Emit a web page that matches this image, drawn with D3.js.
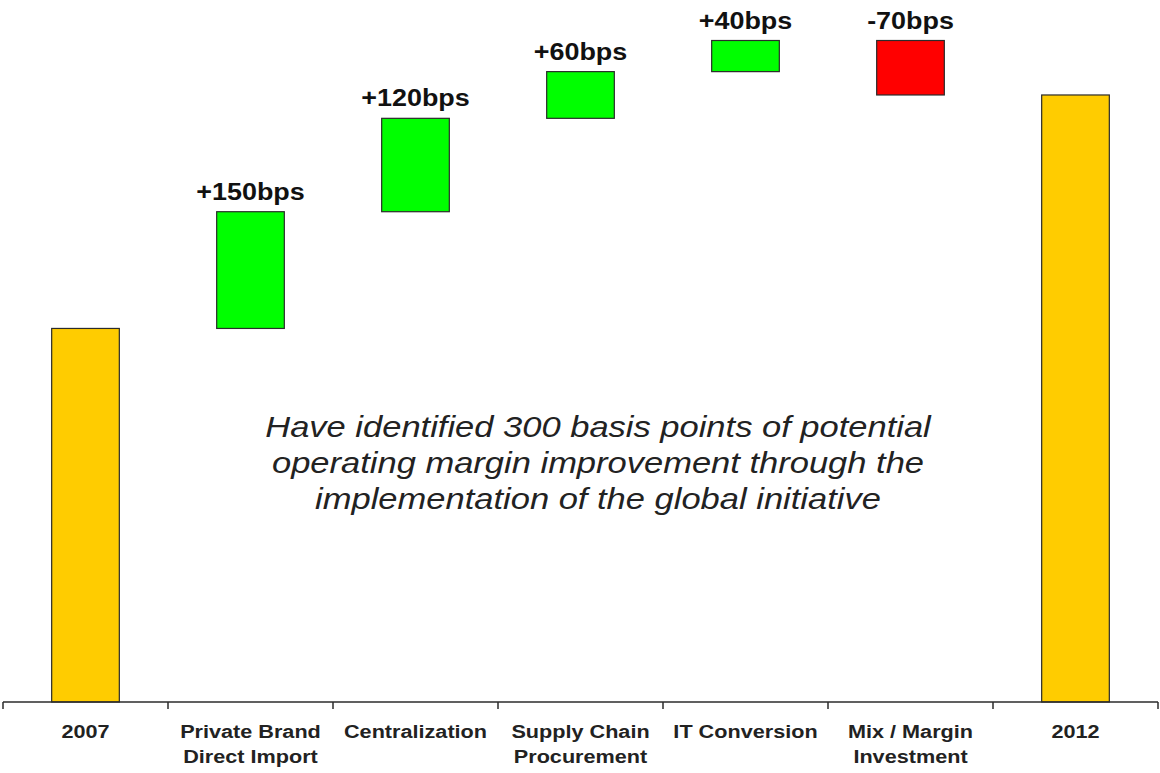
<!DOCTYPE html>
<html>
<head>
<meta charset="utf-8">
<script src="https://cdn.jsdelivr.net/npm/d3@7"></script>
<style>
  html, body { margin: 0; padding: 0; background: #fff; }
  svg { display: block; font-family: Arial, "Liberation Sans", sans-serif; }
</style>
</head>
<body>
<main></main>
<script>
'use strict'

// categories, two-line tick labels
var categories = ['2007', 'Private Brand Direct Import', 'Centralization',
                  'Supply Chain Procurement', 'IT Conversion', 'Mix / Margin Investment', '2012']
var tickLines = [['2007'], ['Private Brand', 'Direct Import'], ['Centralization'],
                 ['Supply Chain', 'Procurement'], ['IT Conversion'], ['Mix / Margin', 'Investment'], ['2012']]

// margin in basis points
var startValue = 480
var steps      = [150, 120, 60, 40, -70]
var stepLabels = ['+150bps', '+120bps', '+60bps', '+40bps', '-70bps']
var endValue   = 780

var note = ['Have identified 300 basis points of potential',
            'operating margin improvement through the',
            'implementation of the global initiative']

var opts = {
  width: 1160,
  height: 773,
  left: 3,
  right: 1158,
  base: 702,
  top: 40.5,
  yMax: 850,
  stretch: 1.17   // source slide text is a bit wider than tall
}

// build waterfall rows
var rows = []
rows.push({ key: categories[0], y0: 0, y1: startValue, type: 'total' })
var run = startValue
steps.forEach(function (s, i) {
  rows.push({ key: categories[i + 1], y0: run, y1: run + s, type: s >= 0 ? 'up' : 'down', label: stepLabels[i] })
  run += s
})
rows.push({ key: categories[6], y0: 0, y1: endValue, type: 'total' })

var fills = { total: '#FFCC00', up: '#00FF00', down: '#FF0000' }

var svg = d3.select('main').append('svg')
  .attr('width', opts.width)
  .attr('height', opts.height)

var x = d3.scaleBand()
  .domain(categories)
  .range([opts.left, opts.right])
  .paddingInner(0.59)
  .paddingOuter(0.295)

var y = d3.scaleLinear()
  .domain([0, opts.yMax])
  .range([opts.base, opts.top])

var step = x.step()

function place (cx, cy) {
  return 'translate(' + cx + ',' + cy + ') scale(' + opts.stretch + ',1)'
}

// bars
svg.selectAll('rect.bar')
  .data(rows)
  .enter().append('rect')
  .attr('class', 'bar')
  .attr('x', function (d) { return x(d.key) })
  .attr('width', x.bandwidth())
  .attr('y', function (d) { return y(Math.max(d.y0, d.y1)) })
  .attr('height', function (d) { return Math.abs(y(d.y0) - y(d.y1)) })
  .attr('fill', function (d) { return fills[d.type] })
  .attr('stroke', '#2b2b2b')
  .attr('stroke-width', 1.2)

// step labels
svg.selectAll('text.step')
  .data(rows.filter(function (d) { return d.label }))
  .enter().append('text')
  .attr('class', 'step')
  .attr('transform', function (d) {
    return place(x(d.key) + x.bandwidth() / 2, y(Math.max(d.y0, d.y1)) - 12)
  })
  .attr('text-anchor', 'middle')
  .attr('font-size', 23)
  .attr('font-weight', 'bold')
  .attr('fill', '#111')
  .text(function (d) { return d.label })

// x axis: line + ticks at band boundaries
var axis = svg.append('g')
axis.append('line')
  .attr('x1', opts.left).attr('x2', opts.right)
  .attr('y1', opts.base).attr('y2', opts.base)
  .attr('stroke', '#2b2b2b').attr('stroke-width', 1.5)

var bounds = d3.range(categories.length + 1).map(function (i) { return opts.left + i * step })
axis.selectAll('line.tick')
  .data(bounds)
  .enter().append('line')
  .attr('class', 'tick')
  .attr('x1', function (d) { return d }).attr('x2', function (d) { return d })
  .attr('y1', opts.base).attr('y2', opts.base + 7)
  .attr('stroke', '#2b2b2b').attr('stroke-width', 1.5)

var labels = axis.selectAll('text.cat')
  .data(categories)
  .enter().append('text')
  .attr('class', 'cat')
  .attr('transform', function (d) { return place(x(d) + x.bandwidth() / 2, 738) })
  .attr('text-anchor', 'middle')
  .attr('font-size', 18.5)
  .attr('font-weight', 'bold')
  .attr('fill', '#222')

labels.selectAll('tspan')
  .data(function (d, i) { return tickLines[i] })
  .enter().append('tspan')
  .attr('x', 0)
  .attr('dy', function (d, i) { return i === 0 ? 0 : 25 })
  .text(function (d) { return d })

// annotation
svg.append('text')
  .attr('transform', place(598, 437))
  .attr('text-anchor', 'middle')
  .attr('font-size', 29.5)
  .attr('font-style', 'italic')
  .attr('fill', '#222')
  .selectAll('tspan')
  .data(note)
  .enter().append('tspan')
  .attr('x', 0)
  .attr('dy', function (d, i) { return i === 0 ? 0 : 36 })
  .text(function (d) { return d })
</script>
</body>
</html>
